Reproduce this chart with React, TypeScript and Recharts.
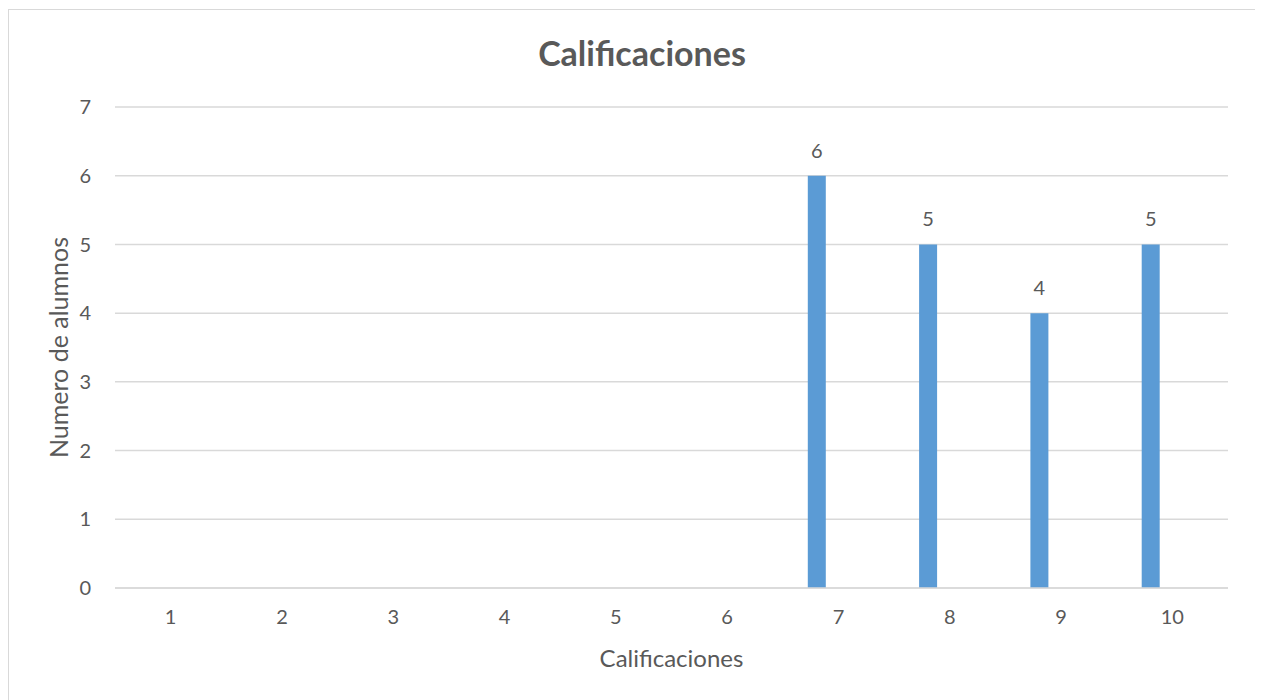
import React from 'react';
import { BarChart, Bar, XAxis, YAxis, CartesianGrid, LabelList, Label } from 'recharts';

const categories = ['1', '2', '3', '4', '5', '6', '7', '8', '9', '10'];
const counts = [0, 0, 0, 0, 0, 0, 6, 5, 4, 5];
const emptySeries: (number | null)[] = [null, null, null, null, null, null, null, null, null, null];
const yTicks = [0, 1, 2, 3, 4, 5, 6, 7];

const data = categories.map((c, i) => ({ cat: c, value: counts[i], empty: emptySeries[i] }));

const FONT = 'Lato, "Liberation Sans", sans-serif';
const TXT = '#595959';

export default function App() {
  return (
    <div
      style={{
        position: 'relative',
        width: 1246,
        height: 700,
        marginTop: 1,
        border: '1px solid #d9d9d9',
        background: '#fff',
        fontFamily: FONT,
      }}
    >
      <div
        style={{
          position: 'absolute',
          left: 0,
          right: 0,
          top: 22,
          textAlign: 'center',
          fontSize: 34,
          fontWeight: 'bold',
          color: TXT,
          fontFamily: FONT,
          paddingLeft: 20,
        }}
      >
        Calificaciones
      </div>
      <BarChart
        width={1246}
        height={700}
        data={data}
        margin={{ top: 97, right: 27, left: 50, bottom: 92 }}
        barCategoryGap={0}
        barGap={26}
      >
        <CartesianGrid vertical={false} stroke="#d9d9d9" strokeWidth={1.5} />
        <XAxis
          dataKey="cat"
          height={30}
          axisLine={{ stroke: '#d9d9d9', strokeWidth: 1.5 }}
          tickLine={false}
          tickMargin={16}
          tick={{ fill: TXT, fontSize: 20, fontFamily: FONT }}
        >
          <Label
            value="Calificaciones"
            position="bottom"
            offset={32}
            style={{ fill: TXT, fontSize: 24, fontFamily: FONT }}
          />
        </XAxis>
        <YAxis
          width={56}
          domain={[0, 7]}
          ticks={yTicks}
          interval={0}
          axisLine={false}
          tickLine={false}
          tickMargin={18}
          tick={{ fill: TXT, fontSize: 20, fontFamily: FONT }}
        >
          <Label
            value="Numero de alumnos"
            angle={-90}
            position="left"
            offset={0}
            style={{ fill: TXT, fontSize: 25, fontFamily: FONT, textAnchor: 'middle' }}
          />
        </YAxis>
        <Bar dataKey="value" fill="#5b9bd5" barSize={18} isAnimationActive={false}>
          <LabelList
            dataKey="value"
            position="top"
            offset={18}
            formatter={(v: number) => (v > 0 ? v : '')}
            style={{ fill: TXT, fontSize: 20, fontFamily: FONT }}
          />
        </Bar>
        <Bar dataKey="empty" fill="#ed7d31" barSize={18} isAnimationActive={false} />
      </BarChart>
    </div>
  );
}
